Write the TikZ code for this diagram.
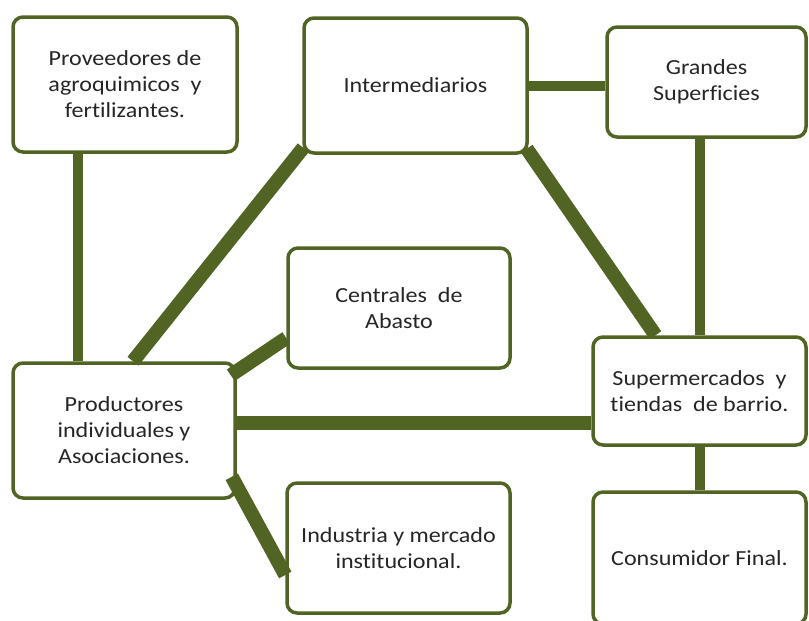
\documentclass[tikz,border=0pt]{standalone}
\usepackage{fontspec}
\setmainfont{Carlito}[FakeStretch=1.12,Ligatures=NoCommon]
\usetikzlibrary{shadows}
\definecolor{linegreen}{RGB}{82,100,35}
\definecolor{boxtext}{RGB}{38,38,38}
\begin{document}
\begin{tikzpicture}[x=1pt,y=-1pt,
    box/.style={draw=linegreen,line width=3.5pt,rounded corners=10pt,fill=white,
      align=center,text=boxtext,inner sep=0pt,font=\fontsize{21.5}{26}\selectfont,
      drop shadow={opacity=0.2,shadow xshift=1.5pt,shadow yshift=-1.5pt}},
    link/.style={linegreen,line width=10pt},
    thick link/.style={linegreen,line width=14pt}]
  \useasboundingbox (0,0) rectangle (809,621);
  \clip (0,0) rectangle (809,621);
  % boxes
  \node[box,minimum width=224pt,minimum height=135pt] (prov) at (125,84.5) {Proveedores de\\agroquimicos\ \ y\\fertilizantes.};
  \node[box,minimum width=223pt,minimum height=135pt] (inter) at (415.5,85.5) {Intermediarios};
  \node[box,minimum width=199pt,minimum height=110pt] (grandes) at (706.5,82) {Grandes\\Superficies};
  \node[box,minimum width=222pt,minimum height=120pt] (cent) at (399,308) {Centrales\ \ de\\Abasto};
  \node[box,minimum width=222pt,minimum height=135pt] (prod) at (124,430.5) {Productores\\individuales y\\Asociaciones.};
  \node[box,minimum width=223pt,minimum height=130pt] (ind) at (398.5,548) {Industria y mercado\\institucional.};
  \node[box,minimum width=213pt,minimum height=108pt] (super) at (699.5,391) {Supermercados\ \ y\\tiendas\ \ de barrio.};
  \node[box,minimum width=213pt,minimum height=132pt] (cons) at (699.5,558) {Consumidor Final.};
  % links
  \coordinate (pe) at ([yshift=8pt]prod.east);
  \draw[link] ([xshift=-47pt]prov.south) -- ([xshift=-46pt]prod.north);
  \draw[thick link] ([xshift=9pt]prod.north) -- ([xshift=1pt,yshift=7pt]inter.south west);
  \draw[link] (inter.east) -- (inter.east -| grandes.west);
  \draw[thick link] ([xshift=-2pt,yshift=6pt]inter.south east) -- ([xshift=-44pt]super.north);
  \draw[link] (grandes.south -| super.north) -- (super.north);
  \draw[thick link] (pe) -- (pe -| super.west);
  \draw[thick link] ([xshift=-6pt,yshift=-14pt]prod.north east) -- ([yshift=-30pt]cent.west);
  \draw[thick link] ([xshift=-5pt,yshift=23pt]prod.south east) -- ([yshift=-27pt]ind.west);
  \draw[link] (super.south) -- (cons.north);
\end{tikzpicture}
\end{document}
